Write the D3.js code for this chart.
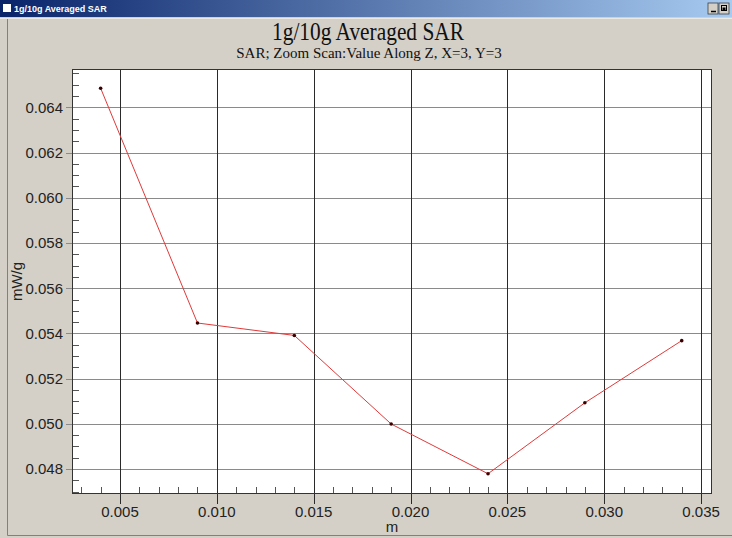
<!DOCTYPE html>
<html><head><meta charset="utf-8">
<script src="https://cdn.jsdelivr.net/npm/d3@7/dist/d3.min.js"></script>
<style>
html,body{margin:0;padding:0;background:#d4d0c8;overflow:hidden;}
svg{display:block;}
</style></head>
<body>
<script>
const windowTitle = "1g/10g Averaged SAR";
const chartTitle = "1g/10g Averaged SAR";
const chartSubtitle = "SAR; Zoom Scan:Value Along Z, X=3, Y=3";
const xLabel = "m";
const yLabel = "mW/g";
const xValues = [0.004, 0.009, 0.014, 0.019, 0.024, 0.029, 0.034];
const sarValues = [0.06485, 0.05446, 0.05391, 0.04999, 0.04779, 0.05093, 0.05368];
const xTicks = [0.005, 0.010, 0.015, 0.020, 0.025, 0.030, 0.035];
const yTicks = [0.048, 0.050, 0.052, 0.054, 0.056, 0.058, 0.060, 0.062, 0.064];
const xMinorTicks = [0.003,0.004,0.006,0.007,0.008,0.009,0.011,0.012,0.013,0.014,0.016,0.017,0.018,0.019,0.021,0.022,0.023,0.024,0.026,0.027,0.028,0.029,0.031,0.032,0.033,0.034];
const yMinorTicks = [0.0470,0.0475,0.0485,0.0490,0.0495,0.0505,0.0510,0.0515,0.0525,0.0530,0.0535,0.0545,0.0550,0.0555,0.0565,0.0570,0.0575,0.0585,0.0590,0.0595,0.0605,0.0610,0.0615,0.0625,0.0630,0.0635,0.0645,0.0650,0.0655];

const W = 732, H = 538;
const plot = {left: 72, right: 712, top: 69, bottom: 494};

const svg = d3.select("body").append("svg").attr("width", W).attr("height", H);

// window chrome
const defs = svg.append("defs");
const grad = defs.append("linearGradient").attr("id","tb").attr("x1","0").attr("x2","1").attr("y1","0").attr("y2","0");
grad.append("stop").attr("offset","0").attr("stop-color","#0a246a");
grad.append("stop").attr("offset","1").attr("stop-color","#a6caf0");
svg.append("rect").attr("x",0).attr("y",0).attr("width",W).attr("height",H).attr("fill","#d4d0c8");
svg.append("rect").attr("x",0).attr("y",0).attr("width",W).attr("height",17).attr("fill","url(#tb)");
svg.append("rect").attr("x",3).attr("y",4).attr("width",8).attr("height",8).attr("fill","#fff");
svg.append("text").attr("x",14).attr("y",12).attr("fill","#fff")
  .attr("font-family","Liberation Sans, Arial, sans-serif").attr("font-weight","bold").attr("font-size",9)
  .text(windowTitle);
// buttons
[[708,"_"],[719,"\u25AB"]].forEach(([bx,t])=>{
  svg.append("rect").attr("x",bx).attr("y",3).attr("width",10).attr("height",11).attr("fill","#d4d0c8").attr("stroke","#404040").attr("stroke-width",0.8);
});
svg.append("line").attr("x1",711).attr("x2",716).attr("y1",11.5).attr("y2",11.5).attr("stroke","#000").attr("stroke-width",1.5);
svg.append("rect").attr("x",721.5).attr("y",5.5).attr("width",5).attr("height",5).attr("fill","none").attr("stroke","#000").attr("stroke-width",1);
svg.append("rect").attr("x",722.5).attr("y",7.5).attr("width",3).attr("height",3).attr("fill","#000");
// frame lines
svg.append("line").attr("x1",7.5).attr("x2",7.5).attr("y1",19).attr("y2",535.5).attr("stroke","#808080");
svg.append("line").attr("x1",7.5).attr("x2",W).attr("y1",535.5).attr("y2",535.5).attr("stroke","#808080");
svg.append("line").attr("x1",0).attr("x2",W).attr("y1",18.5).attr("y2",18.5).attr("stroke","#ece9e2");

// titles
svg.append("text").attr("x",368).attr("y",40).attr("text-anchor","middle")
  .attr("font-family","Liberation Serif, Times New Roman, serif").attr("font-size",26).attr("fill","#111")
  .attr("textLength",192).attr("lengthAdjust","spacingAndGlyphs")
  .text(chartTitle);
svg.append("text").attr("x",369).attr("y",58).attr("text-anchor","middle")
  .attr("font-family","Liberation Serif, Times New Roman, serif").attr("font-size",15).attr("fill","#111")
  .text(chartSubtitle);

const x = d3.scaleLinear().domain([0.002522, 0.035563]).range([plot.left, plot.right]);
const y = d3.scaleLinear().domain([0.046894, 0.065699]).range([plot.bottom, plot.top]);

svg.append("rect").attr("x",plot.left).attr("y",plot.top).attr("width",plot.right-plot.left).attr("height",plot.bottom-plot.top).attr("fill","#fff");

// horizontal grid
svg.append("g").selectAll("line").data(yTicks).join("line")
  .attr("x1",plot.left-6).attr("x2",plot.right)
  .attr("y1",d=>Math.round(y(d))+0.5).attr("y2",d=>Math.round(y(d))+0.5)
  .attr("stroke","#8a8a8a").attr("stroke-width",1);
// vertical grid
svg.append("g").selectAll("line").data(xTicks).join("line")
  .attr("x1",d=>Math.round(x(d))+0.5).attr("x2",d=>Math.round(x(d))+0.5)
  .attr("y1",plot.top).attr("y2",plot.bottom+10)
  .attr("stroke","#2a2a2a").attr("stroke-width",1);

// minor ticks
svg.append("g").selectAll("line").data(yMinorTicks.filter(d=>y(d)>plot.top+2 && y(d)<plot.bottom-2)).join("line")
  .attr("x1",plot.left).attr("x2",plot.left+7)
  .attr("y1",d=>Math.round(y(d))+0.5).attr("y2",d=>Math.round(y(d))+0.5)
  .attr("stroke","#555");
svg.append("g").selectAll("line").data(xMinorTicks.filter(d=>x(d)>plot.left+2 && x(d)<plot.right-2)).join("line")
  .attr("x1",d=>Math.round(x(d))+0.5).attr("x2",d=>Math.round(x(d))+0.5)
  .attr("y1",plot.bottom).attr("y2",plot.bottom-7)
  .attr("stroke","#555");

// border
svg.append("rect").attr("x",plot.left+0.5).attr("y",plot.top+0.5).attr("width",plot.right-plot.left-1).attr("height",plot.bottom-plot.top-1)
  .attr("fill","none").attr("stroke","#333").attr("stroke-width",1);

// tick labels
const fmt = d3.format(".3f");
svg.append("g").selectAll("text").data(yTicks).join("text")
  .attr("x",plot.left-9).attr("y",d=>y(d)).attr("dy","0.36em").attr("text-anchor","end")
  .attr("font-family","Liberation Sans, Arial, sans-serif").attr("font-size",15).attr("fill","#222")
  .text(fmt);
svg.append("g").selectAll("text").data(xTicks).join("text")
  .attr("x",d=>x(d)).attr("y",plot.bottom+23).attr("text-anchor","middle")
  .attr("font-family","Liberation Sans, Arial, sans-serif").attr("font-size",15).attr("fill","#222")
  .text(fmt);

// axis labels
svg.append("text").attr("x",(plot.left+plot.right)/2).attr("y",532).attr("text-anchor","middle")
  .attr("font-family","Liberation Sans, Arial, sans-serif").attr("font-size",15).attr("fill","#222").text(xLabel);
svg.append("text").attr("transform",`translate(22,${(plot.top+plot.bottom)/2}) rotate(-90)`).attr("text-anchor","middle")
  .attr("font-family","Liberation Sans, Arial, sans-serif").attr("font-size",15).attr("fill","#222").text(yLabel);

// series
const pts = xValues.map((v,i)=>[v, sarValues[i]]);
svg.append("path").datum(pts)
  .attr("d", d3.line().x(d=>x(d[0])).y(d=>y(d[1])))
  .attr("fill","none").attr("stroke","#e03a3a").attr("stroke-width",1);
svg.append("g").selectAll("circle").data(pts).join("circle")
  .attr("cx",d=>x(d[0])).attr("cy",d=>y(d[1])).attr("r",1.8).attr("fill","#3a0000");
</script>
</body></html>
